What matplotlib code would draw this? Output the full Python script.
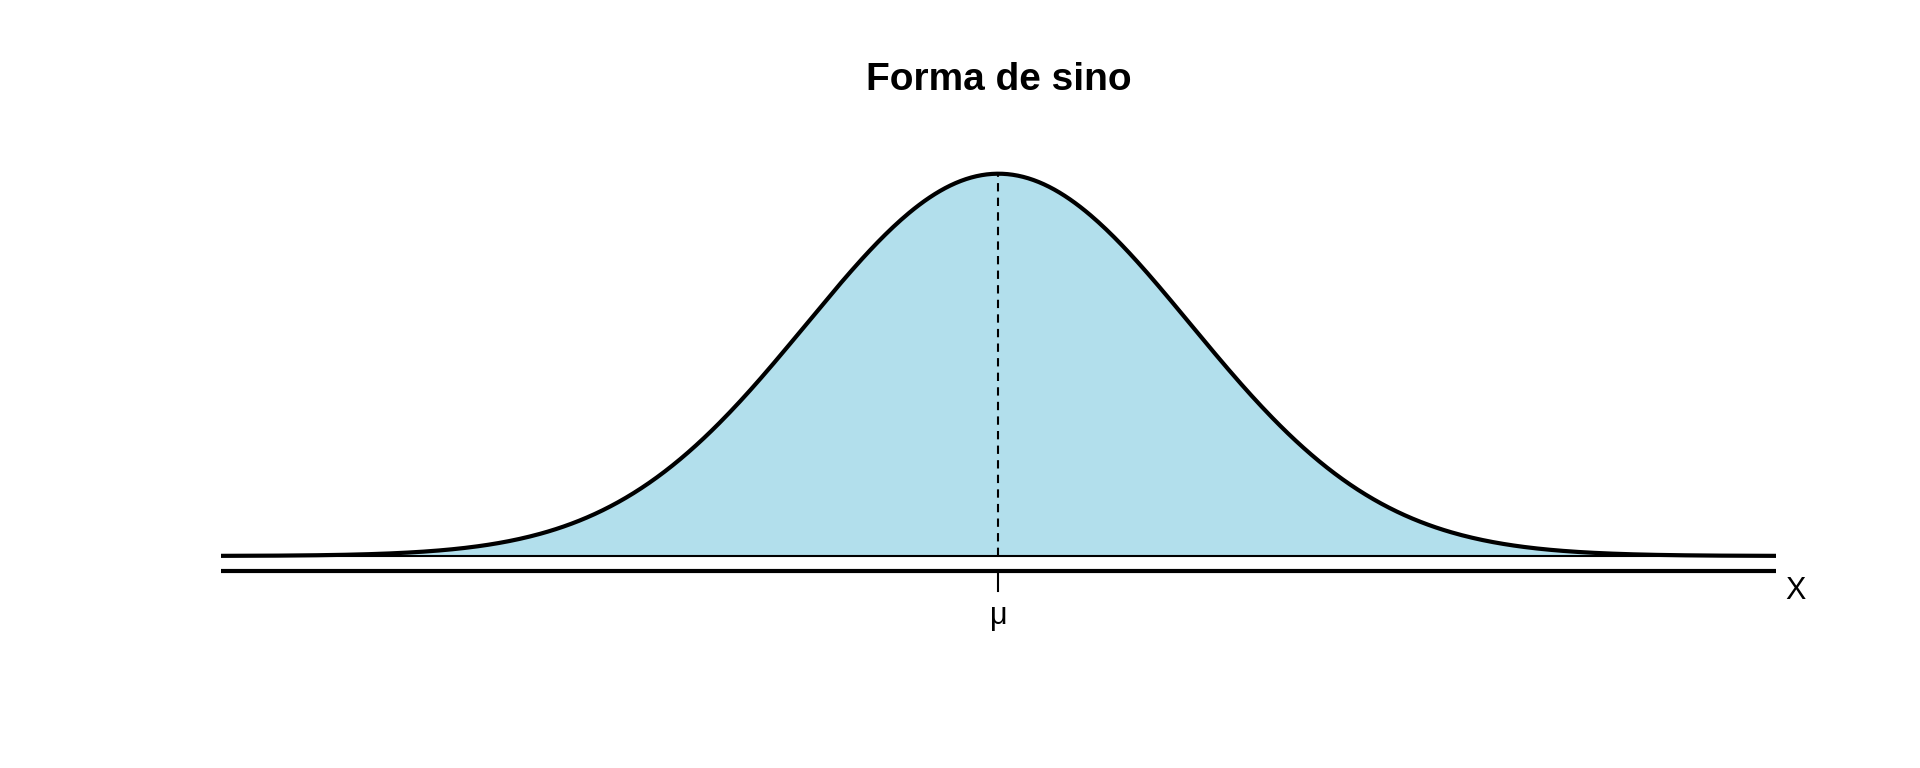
import numpy as np
import matplotlib.pyplot as plt

plt.rcParams['font.family'] = ['Liberation Sans', 'DejaVu Sans']

# curve parameters (standard bell shape), shown in units of sigma
mu = 0.0
sigma = 1.0
x_range = [-4.05, 4.05]
title = "Forma de sino"
tick_label = "μ"
axis_label = "X"

x = np.linspace(x_range[0], x_range[1], 600)
y = np.exp(-0.5 * ((x - mu) / sigma) ** 2) / (sigma * np.sqrt(2 * np.pi))

fig = plt.figure(figsize=(19.2, 7.68), dpi=100)
ax = fig.add_axes([0.115, 0.2, 0.81, 0.65])
ax.set_xlim(x_range[0], x_range[1])
ax.set_ylim(-0.061, 0.46)
ax.axis('off')

ax.fill_between(x, 0, y, color='#b2dfec', lw=0)
ax.plot(x, y, color='black', lw=3)
ax.plot(x_range, [0, 0], color='black', lw=1.5)
ax.plot([mu, mu], [0, y.max()], color='black', lw=1.5, ls=(0, (4, 3)))

# x axis line with single tick at mu
ax.plot(x_range, [-0.0153, -0.0153], color='black', lw=3, solid_capstyle='round')
ax.plot([mu, mu], [-0.0153, -0.037], color='black', lw=1.5)
ax.text(mu, -0.047, tick_label, ha='center', va='top', fontsize=22, clip_on=False)
ax.text(x_range[1] + 0.05, -0.037, axis_label, ha='left', va='center', fontsize=22, clip_on=False)

fig.text(0.52, 0.896, title, ha='center', va='center', fontsize=28, fontweight='bold')

fig.savefig('out.png', dpi=100)
